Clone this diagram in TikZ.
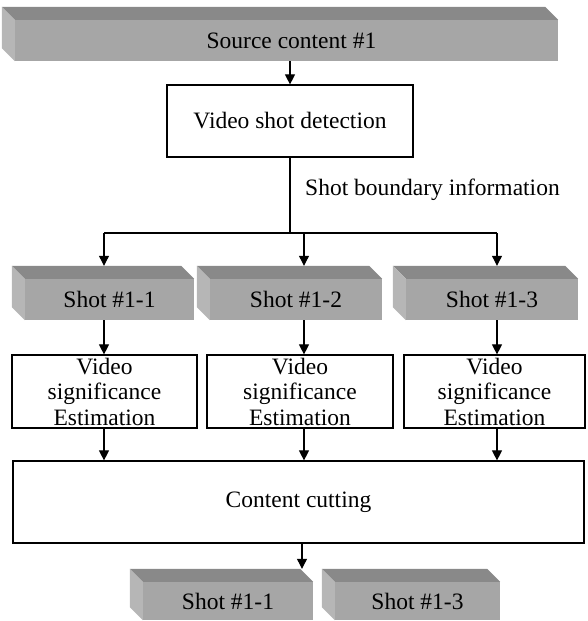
\documentclass[tikz,border=0pt]{standalone}
\usepackage{fontspec}
\setmainfont{Liberation Serif}
\usetikzlibrary{arrows.meta,calc}
\definecolor{slabfront}{RGB}{166,166,166}
\definecolor{slabtop}{RGB}{137,137,137}
\definecolor{slabside}{RGB}{182,182,182}
\tikzset{
  txt/.style={font=\fontsize{23.5}{25.5}\selectfont, inner sep=0pt},
  plainbox/.style={txt, draw=black, line width=1.2pt, fill=white, align=center},
  slabface/.style={txt, fill=slabfront},
  arr/.style={line width=1.1pt, -{Triangle[length=10pt,width=10pt]}},
  wire/.style={line width=1.1pt},
}
% extruded grey block: name, centre x, centre y, width, height, label
\newcommand\shotslab[6]{%
  \node[slabface, minimum width=#4pt, minimum height=#5pt] (#1) at (#2,#3) {#6};
  \fill[slabtop] (#1.north west) -- ++(-13,-13) -- ($(#1.north east)+(-13,-13)$) -- (#1.north east) -- cycle;
  \fill[slabside] (#1.north west) -- ++(-13,-13) -- ($(#1.south west)+(-13,-13)$) -- (#1.south west) -- cycle;
  \coordinate (#1-back) at ($(#1.north west)+(-13,-13)$);
}
\begin{document}
\begin{tikzpicture}[x=1pt,y=-1pt]
\useasboundingbox (0,0) rectangle (587,621);

% source and shot detection
\shotslab{src}{286.5}{40.5}{543}{41}{\hspace*{10pt}Source content \#1}
\node[plainbox, minimum width=246pt, minimum height=72pt] (vsd) at (290,121) {Video shot detection};
\draw[arr] (vsd.north |- src.south) -- (vsd.north);

% distribution bus
\coordinate (bus) at (290,233);
\coordinate (k1) at (104,233);
\coordinate (k2) at (304,233);
\coordinate (k3) at (497,233);
\draw[wire] (vsd.south) -- (bus);
\draw[wire] (k1) -- (k3);
\node[txt, anchor=west] (sbi) at (305,190) {Shot boundary information};

% shots
\shotslab{s1}{109.5}{299.5}{169}{41}{Shot \#1-1}
\shotslab{s2}{296}{299.5}{172}{41}{Shot \#1-2}
\shotslab{s3}{492}{299.5}{172}{41}{Shot \#1-3}
\draw[arr] (k1) -- (k1 |- s1-back);
\draw[arr] (k2) -- (k2 |- s2-back);
\draw[arr] (k3) -- (k3 |- s3-back);

% significance estimation
\node[plainbox, minimum width=185pt, minimum height=73pt] (v1) at (104.5,391.5) {Video\\significance\\Estimation};
\node[plainbox, minimum width=186pt, minimum height=73pt] (v2) at (300,391.5) {Video\\significance\\Estimation};
\node[plainbox, minimum width=181pt, minimum height=73pt] (v3) at (494.5,391.5) {Video\\significance\\Estimation};
\draw[arr] (k1 |- s1.south) -- (k1 |- v1.north);
\draw[arr] (k2 |- s2.south) -- (k2 |- v2.north);
\draw[arr] (k3 |- s3.south) -- (k3 |- v3.north);

% cutting
\node[plainbox, minimum width=571pt, minimum height=82pt] (cc) at (298.5,502) {Content cutting};
\draw[arr] (k1 |- v1.south) -- (k1 |- cc.north);
\draw[arr] (k2 |- v2.south) -- (k2 |- cc.north);
\draw[arr] (k3 |- v3.south) -- (k3 |- cc.north);

% kept shots
\shotslab{b1}{228}{601}{170}{38}{Shot \#1-1}
\shotslab{b3}{417.5}{601}{165}{38}{Shot \#1-3}
\coordinate (kb) at (302,0);
\draw[arr] (kb |- cc.south) -- (kb |- b1-back);
\end{tikzpicture}
\end{document}
